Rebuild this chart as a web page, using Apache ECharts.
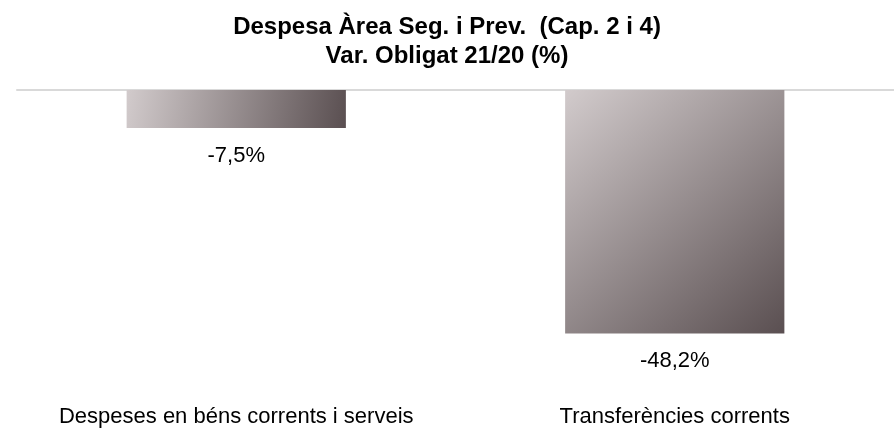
<!DOCTYPE html>
<html>
<head>
<meta charset="utf-8">
<title>Despesa Àrea Seg. i Prev.</title>
<script src="https://cdn.jsdelivr.net/npm/echarts@6/dist/echarts.min.js"></script>
<style>
  html, body { margin: 0; padding: 0; background: #fff; }
  #chart { width: 894px; height: 433px; }
</style>
</head>
<body>
<div id="chart"></div>
<script>
const categories = ['Despeses en béns corrents i serveis', 'Transferències corrents']
const variation = [-7.5, -48.2]

const chart = echarts.init(document.getElementById('chart'))

const barColor = new echarts.graphic.LinearGradient(0, 0, 1, 1, [
  { offset: 0, color: '#d2cbcc' },
  { offset: 1, color: '#5a4f51' }
])

chart.setOption({
  animation: false,
  title: {
    text: 'Despesa Àrea Seg. i Prev.  (Cap. 2 i 4)\nVar. Obligat 21/20 (%)',
    left: 'center',
    top: 8,
    textStyle: {
      fontFamily: 'Liberation Sans, Arial, sans-serif',
      fontSize: 24,
      fontWeight: 'bold',
      color: '#000',
      lineHeight: 29
    }
  },
  grid: { left: 17, right: -6, top: 90, bottom: 40 },
  xAxis: [
    {
      type: 'category',
      data: categories,
      position: 'bottom',
      axisLine: { show: false, onZero: false },
      axisTick: { show: false },
      axisLabel: {
        interval: 0,
        margin: 13,
        fontFamily: 'Liberation Sans, Arial, sans-serif',
        fontSize: 22,
        color: '#000'
      }
    },
    {
      type: 'category',
      data: categories,
      position: 'top',
      axisLine: { show: true, onZero: false, lineStyle: { color: '#d9d9d9', width: 2 } },
      axisTick: { show: false },
      axisLabel: { show: false }
    }
  ],
  yAxis: {
    type: 'value',
    min: -60,
    max: 0,
    show: false,
    splitLine: { show: false }
  },
  series: [
    {
      type: 'bar',
      data: variation,
      barWidth: '50%',
      itemStyle: { color: barColor },
      label: {
        show: true,
        position: 'bottom',
        distance: 17,
        fontFamily: 'Liberation Sans, Arial, sans-serif',
        fontSize: 22,
        color: '#000',
        formatter: p => String(p.value).replace('.', ',') + '%'
      }
    }
  ]
})
</script>
</body>
</html>
